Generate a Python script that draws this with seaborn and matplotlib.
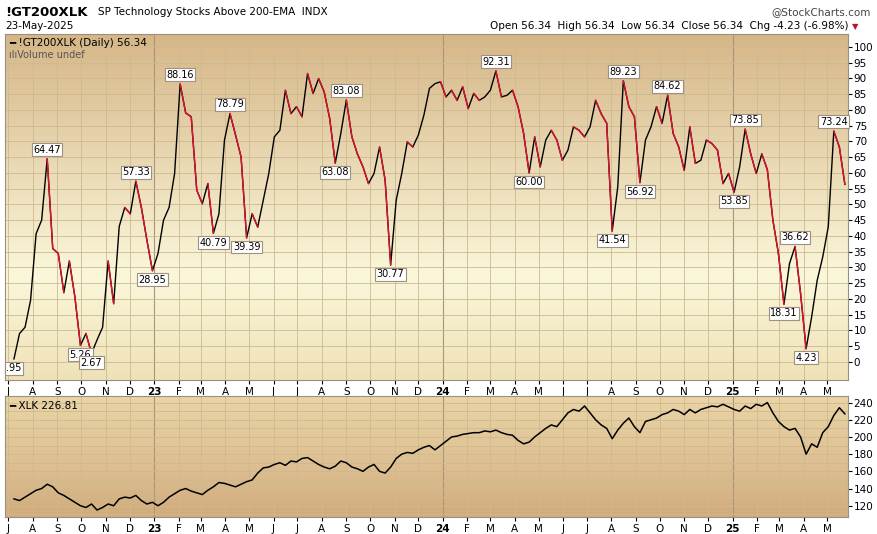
import numpy as np
import pandas as pd
import matplotlib
matplotlib.use("Agg")
import matplotlib.pyplot as plt
import seaborn as sns

gt200 = [0.95, 9, 11, 19.6, 40.7, 45, 64.47, 36, 34.4, 22, 32, 20.6, 5.26, 9, 2.67, 7, 11, 32, 18.5, 43,
         49, 47, 57.33, 49, 38.6, 28.95, 34.4, 45, 49, 59.8, 88.16, 79, 77.8, 54.5, 50.2, 56.6, 40.79, 47, 70.4, 78.79,
         72, 65, 39.39, 47, 42.8, 51.3, 59.8, 71.4, 73.5, 86.2, 78.8, 81, 77.8, 91.5, 85.2, 89.9, 85.7, 77.2, 63.08, 72.5,
         83.08, 71.4, 66, 61.9, 56.6, 59.8, 68.2, 57.7, 30.77, 51.3, 59.8, 69.8, 68.2, 72, 78.3, 86.8, 88.3, 88.9, 84.1, 86.2,
         83, 87.3, 80.4, 85.2, 83, 84.1, 86.2, 92.31, 84.1, 84.6, 86.2, 81, 72.5, 60.0, 71.4, 61.9, 70.4, 73.5, 70.4, 64,
         67.2, 74.6, 73.5, 71.4, 74.6, 83, 78.8, 75.7, 41.54, 55.6, 89.23, 81, 77.8, 56.92, 70.4, 74.6, 81, 75.7, 84.62, 72.5,
         68.2, 60.8, 74.6, 63, 64, 70.4, 69.3, 67.2, 56.6, 59.8, 53.85, 61.9, 73.85, 66, 59.8, 66, 61, 45, 34.4, 18.31,
         31.2, 36.62, 21.7, 4.23, 14.3, 25.9, 33.3, 42.9, 73.24, 68.2, 56.34]

xlk = [128, 126, 130, 134, 138, 140, 145, 142, 135, 132, 128, 124, 120, 118, 122, 115, 118, 122, 120, 128,
       130, 129, 132, 126, 122, 124, 120, 124, 130, 134, 138, 140, 137, 135, 133, 138, 142, 147, 146, 144,
       142, 145, 148, 150, 158, 164, 165, 168, 170, 167, 172, 171, 175, 176, 172, 168, 165, 163, 166, 172,
       170, 165, 163, 160, 165, 168, 160, 158, 165, 175, 180, 182, 181, 185, 188, 190, 185, 190, 195, 200,
       201, 203, 204, 205, 205, 207, 206, 208, 205, 203, 202, 196, 192, 194, 200, 205, 210, 214, 212, 220,
       228, 232, 230, 236, 228, 220, 214, 210, 198, 208, 216, 222, 212, 205, 218, 220, 222, 226, 228, 232,
       230, 226, 232, 228, 232, 234, 236, 235, 238, 235, 232, 230, 236, 233, 238, 236, 240, 228, 218, 212,
       208, 210, 200, 180, 192, 188, 205, 212, 225, 234, 226.81]

label_idx = [0, 6, 12, 14, 22, 25, 30, 36, 39, 42, 58, 60, 68, 87, 93, 108, 110, 113, 118, 130, 132, 139, 141, 143, 148]
label_txt = [".95", "64.47", "5.26", "2.67", "57.33", "28.95", "88.16", "40.79", "78.79", "39.39", "63.08", "83.08",
             "30.77", "92.31", "60.00", "41.54", "89.23", "56.92", "84.62", "53.85", "73.85", "18.31", "36.62", "4.23", "73.24"]
label_up = [False, True, False, False, True, False, True, False, True, False, False, True,
            False, True, False, False, True, False, True, False, True, False, True, False, True]

dates = pd.date_range(end="2025-05-23", periods=len(gt200), freq="W-FRI")
df = pd.DataFrame({"date": dates, "gt": gt200, "xlk": xlk})

fig = plt.figure(figsize=(8.77, 5.34), dpi=100)
ax1 = fig.add_axes([0.006, 0.288, 0.961, 0.648])
ax2 = fig.add_axes([0.006, 0.032, 0.961, 0.227])

def grad(ax, c_top, c_mid, c_bot, mid=0.3):
    from matplotlib.colors import LinearSegmentedColormap
    cm = LinearSegmentedColormap.from_list("g", [(0, c_bot), (mid, c_mid), (1, c_top)])
    g = np.linspace(0, 1, 256).reshape(-1, 1)
    ax.imshow(g, aspect="auto", cmap=cm, extent=[0, 1, 0, 1], origin="lower",
              transform=ax.transAxes, zorder=0)

grad(ax1, "#d6b687", "#faf7da", "#efe2b8", mid=0.3)
grad(ax2, "#ead5a6", "#dfc294", "#d1ac7c", mid=0.5)

xmin = pd.Timestamp("2022-06-27")
xmax = pd.Timestamp("2025-05-27")

sns.lineplot(data=df, x="date", y="gt", ax=ax1, color="black", lw=1.0, zorder=3)
for i in range(len(gt200) - 1):
    if gt200[i + 1] < gt200[i]:
        ax1.plot(dates[i:i + 2], gt200[i:i + 2], color="#e0102f", lw=1.0, zorder=4)
sns.lineplot(data=df, x="date", y="xlk", ax=ax2, color="black", lw=1.1, zorder=3)

for i, t, up in zip(label_idx, label_txt, label_up):
    off = 3 if up else -3
    ax1.annotate(t, (dates[i], gt200[i]), xytext=(0, off), textcoords="offset points",
                 ha="center", va="bottom" if up else "top", fontsize=7, zorder=6,
                 bbox=dict(boxstyle="square,pad=0.15", fc="white", ec="#a09080", lw=0.8))

months = pd.date_range("2022-07-01", "2025-05-01", freq="MS")
for ax, ylim, yt in [(ax1, (-5.8, 104), np.arange(0, 101, 5)), (ax2, (107, 248), np.arange(120, 241, 20))]:
    ax.set_xlim(xmin, xmax)
    ax.set_ylim(*ylim)
    ax.set_yticks(yt)
    ax.yaxis.tick_right()
    ax.tick_params(axis="y", labelsize=7.5, length=3, pad=1)
    ax.tick_params(axis="x", labelsize=7.5, length=3, pad=2)
    ax.set_xticks(months)
    labs = [str(m.year)[2:] if m.month == 1 else m.strftime("%b")[0] for m in months]
    ax.set_xticklabels(labs)
    for lab, m in zip(ax.get_xticklabels(), months):
        if m.month == 1:
            lab.set_fontweight("bold")
    for m in months:
        ax.axvline(m, color="#a8957a" if m.month == 1 else "#cdb991", lw=0.8 if m.month == 1 else 0.6, zorder=1)
    for y in (yt if ax is ax1 else np.arange(110, 248, 10)):
        ax.axhline(y, color="#cdb991", lw=0.6, zorder=1)
    ax.set_xlabel("")
    ax.set_ylabel("")
    for s in ax.spines.values():
        s.set_color("#999080")
        s.set_linewidth(0.8)

ax1.text(0.005, 0.99, "━ !GT200XLK (Daily) 56.34", transform=ax1.transAxes, fontsize=7.5, va="top", zorder=7)
ax1.text(0.005, 0.955, "ılıVolume undef", transform=ax1.transAxes, fontsize=7, va="top", color="#555555", zorder=7)
ax2.text(0.005, 0.96, "━ XLK 226.81", transform=ax2.transAxes, fontsize=7.5, va="top", zorder=7)

fig.text(0.006, 0.977, "!GT200XLK", fontsize=9.5, fontweight="bold", va="center")
fig.text(0.112, 0.977, "SP Technology Stocks Above 200-EMA  INDX", fontsize=7.5, va="center")
fig.text(0.006, 0.951, "23-May-2025", fontsize=7.5, va="center")
fig.text(0.993, 0.977, "@StockCharts.com", fontsize=7.5, va="center", ha="right", color="#444444")
fig.text(0.967, 0.951, "Open 56.34  High 56.34  Low 56.34  Close 56.34  Chg -4.23 (-6.98%)", fontsize=7.5,
         va="center", ha="right")
fig.text(0.975, 0.951, "▼", fontsize=6, va="center", ha="center", color="#c0102f")

fig.savefig("out.png", dpi=100, facecolor="white")
